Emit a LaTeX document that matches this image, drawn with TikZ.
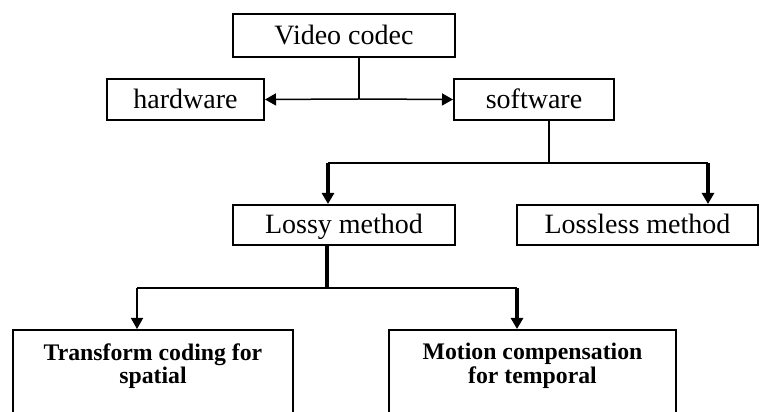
\documentclass[tikz,border=0pt]{standalone}
\usepackage{fontspec}
\setmainfont{Liberation Serif}
\usetikzlibrary{arrows.meta,
                positioning
            }

\begin{document}
\begin{tikzpicture}[x=0.4pt, y=-0.4pt,
        box/.style={draw, line width=0.8pt, inner sep=0pt, text height=8.2pt, text depth=1pt,
                    font=\fontsize{11.2}{13}\selectfont},
        leaf/.style={draw, line width=0.8pt, inner xsep=0pt, inner ysep=5.4pt, anchor=north, align=center,
                     font=\fontsize{9.5}{9.4}\bfseries\selectfont, text depth=40pt},
        thin/.style={line width=0.6pt},
        thick/.style={line width=1.6pt},
        tip/.style={-{Triangle[length=4.4pt, width=4.8pt]}}
    ]
            \useasboundingbox (0, 0) rectangle (761, 412);
            \clip (0, 0) rectangle (761, 412);
            \node[box, minimum width=88.8pt, minimum height=17.2pt] (codec) at (344, 35.5) {Video codec};
            \node[box, minimum width=62.8pt, minimum height=16.4pt] (hw) at (185.5, 99.5) {hardware};
            \node[box, minimum width=64pt, minimum height=16.4pt] (sw) at (534, 99.5) {software};
            \node[box, minimum width=88.8pt, minimum height=16pt] (lossy) at (344, 225) {Lossy method};
            \node[box, minimum width=96.4pt, minimum height=16pt] (lossless) at (637.5, 225) {Lossless method};
            \node[leaf, minimum width=112pt] (trans) at (153, 329) {Transform coding for\\ spatial};
            \node[leaf, minimum width=114.8pt] (motion) at (532.5, 329) {Motion compensation\\ for temporal};
            % first split
            \coordinate (top) at (359, 99);
            \draw[thin] (codec.south -| top) -- (top);
            \draw[thin, tip] (top) -- (hw.east);
            \draw[thin, tip] (top) -- (sw.west);
            % software branches
            \coordinate (mid) at (549, 163);
            \coordinate (midl) at (328, 163);
            \coordinate (midr) at (708, 163);
            \draw[thin] (sw.south -| mid) -- (mid);
            \draw[thin] (midl) -- (midr);
            \draw[thick, tip] (midl) -- (lossy.north -| midl);
            \draw[thick, tip] (midr) -- (lossless.north -| midr);
            % lossy branches
            \coordinate (low) at (327, 288);
            \coordinate (lowl) at (137, 288);
            \coordinate (lowr) at (517, 288);
            \draw[thick] (lossy.south -| low) -- (low);
            \draw[thin] (lowl) -- (lowr);
            \draw[thin, tip] (lowl) -- (trans.north -| lowl);
            \draw[thick, tip] (lowr) -- (motion.north -| lowr);
        \end{tikzpicture}
\end{document}
